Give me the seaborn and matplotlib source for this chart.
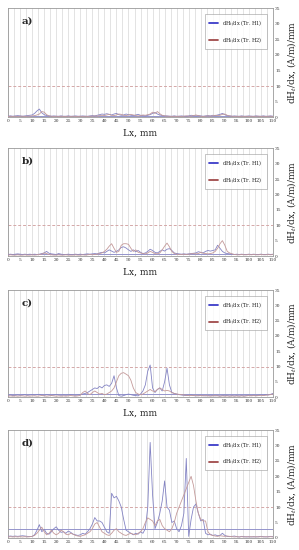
import matplotlib
matplotlib.use("Agg")
import matplotlib.pyplot as plt
from matplotlib.lines import Line2D
import numpy as np
import pandas as pd
import seaborn as sns

# positions along the sample, mm (1 mm step)
lx = list(range(0, 111))

# panel a)
a_h1 = [0.3, 0.4, 0.3, 0.4, 0.5, 0.4, 0.3, 0.4, 0.5, 0.6, 0.7,
        1.2, 2.0, 2.6, 1.4, 0.8, 0.5, 0.4, 0.3, 0.4, 0.3,
        0.3, 0.4, 0.3, 0.3, 0.4, 0.3, 0.3, 0.4, 0.3, 0.3,
        0.4, 0.3, 0.3, 0.4, 0.5, 0.4, 0.6, 0.8, 1.0, 0.9,
        1.1, 0.9, 0.7, 1.0, 1.2, 0.8, 0.6, 0.7, 1.0, 0.8,
        0.6, 0.5, 0.7, 0.9, 0.6, 0.5, 0.4, 0.6, 0.8, 1.2,
        1.5, 1.0, 0.7, 0.5, 0.4, 0.4, 0.3, 0.3, 0.4, 0.3,
        0.3, 0.4, 0.3, 0.3, 0.4, 0.6, 0.5, 0.4, 0.5, 0.4,
        0.3, 0.4, 0.5, 0.4, 0.6, 0.5, 0.7, 0.9, 1.2, 0.8,
        0.5, 0.4, 0.3, 0.4, 0.3, 0.3, 0.4, 0.3, 0.3, 0.4,
        0.3, 0.3, 0.4, 0.3, 0.3, 0.4, 0.3, 0.3, 0.4, 0.3]
a_h2 = [0.2, 0.3, 0.2, 0.3, 0.2, 0.3, 0.3, 0.2, 0.3, 0.3, 0.4,
        0.5, 0.7, 1.0, 1.8, 1.6, 0.8, 0.4, 0.3, 0.2, 0.3,
        0.2, 0.3, 0.2, 0.2, 0.3, 0.2, 0.3, 0.2, 0.2, 0.3,
        0.2, 0.3, 0.2, 0.3, 0.3, 0.4, 0.3, 0.5, 0.6, 0.5,
        0.7, 0.9, 0.6, 0.5, 0.7, 1.0, 0.9, 0.6, 0.5, 0.7,
        0.9, 0.7, 0.5, 0.4, 0.5, 0.7, 0.6, 0.8, 1.0, 1.6,
        1.2, 1.8, 1.1, 0.6, 0.4, 0.3, 0.3, 0.2, 0.3, 0.2,
        0.3, 0.2, 0.3, 0.4, 0.3, 0.3, 0.5, 0.7, 0.5, 0.3,
        0.2, 0.3, 0.4, 0.3, 0.4, 0.6, 0.5, 0.6, 0.9, 1.0,
        0.6, 0.4, 0.3, 0.2, 0.3, 0.2, 0.3, 0.2, 0.3, 0.2,
        0.3, 0.2, 0.3, 0.3, 0.2, 0.3, 0.2, 0.3, 0.3, 0.2]

# panel b)
b_h1 = [0.5, 0.6, 0.5, 0.6, 0.7, 0.6, 0.5, 0.6, 0.5, 0.6, 0.5,
        0.6, 0.5, 0.6, 0.8, 1.0, 1.5, 0.9, 0.7, 0.6, 0.5,
        0.8, 0.6, 0.5, 0.5, 0.6, 0.5, 0.5, 0.6, 0.5, 0.6,
        0.5, 0.6, 0.7, 0.6, 0.7, 0.8, 0.7, 1.0, 1.2, 1.0,
        1.5, 2.0, 1.6, 1.2, 1.5, 2.0, 2.8, 3.0, 2.6, 2.0,
        1.5, 2.0, 1.4, 1.8, 1.2, 0.8, 1.0, 1.5, 2.2, 1.8,
        1.2, 1.0, 1.5, 2.0, 1.6, 2.2, 2.4, 1.8, 1.0, 0.8,
        0.7, 0.6, 0.7, 0.6, 0.7, 0.8, 0.9, 1.0, 1.4, 1.2,
        1.0, 1.5, 1.8, 1.6, 1.8, 2.0, 3.5, 2.5, 1.5, 1.0,
        0.8, 0.7, 0.6, 0.5, 0.6, 0.5, 0.6, 0.5, 0.5, 0.6,
        0.5, 0.6, 0.5, 0.5, 0.6, 0.5, 0.5, 0.6, 0.5, 0.6]
b_h2 = [0.3, 0.4, 0.3, 0.3, 0.4, 0.3, 0.3, 0.4, 0.3, 0.3, 0.4,
        0.3, 0.4, 0.5, 0.6, 1.0, 0.8, 0.5, 0.4, 0.3, 0.3,
        0.4, 0.3, 0.3, 0.4, 0.3, 0.3, 0.3, 0.4, 0.3, 0.3,
        0.4, 0.3, 0.4, 0.5, 0.4, 0.5, 0.6, 0.8, 1.0, 1.5,
        2.2, 3.2, 4.0, 2.5, 1.2, 1.5, 3.5, 4.0, 4.0, 3.8,
        2.5, 1.5, 2.0, 1.2, 1.0, 0.8, 0.7, 1.0, 1.5, 1.2,
        0.8, 0.7, 1.0, 2.0, 3.2, 4.2, 3.0, 1.5, 0.8, 0.6,
        0.5, 0.5, 0.6, 0.5, 0.6, 0.7, 0.8, 0.7, 0.8, 1.2,
        0.9, 0.8, 0.7, 0.8, 1.0, 1.5, 2.5, 4.0, 5.0, 3.5,
        1.5, 1.0, 0.7, 0.5, 0.4, 0.4, 0.5, 0.4, 0.4, 0.5,
        0.4, 0.5, 0.4, 0.4, 0.5, 0.4, 0.4, 0.5, 0.4, 0.5]

# panel c)
c_h1 = [0.6, 0.7, 0.5, 0.6, 0.7, 0.6, 0.7, 0.8, 0.6, 0.7, 0.8,
        0.7, 0.8, 0.9, 0.7, 0.6, 0.8, 0.7, 0.6, 0.7, 0.8,
        0.7, 0.6, 0.7, 0.6, 0.7, 0.8, 0.7, 0.6, 0.7, 0.8,
        1.0, 1.2, 1.5, 2.0, 2.5, 3.0, 2.8, 3.5, 3.0, 3.8,
        4.0, 3.5, 4.5, 7.0, 3.0, 0.5, 0.3, 0.5, 0.8, 1.0,
        0.8, 0.6, 0.5, 0.4, 1.0, 2.0, 4.0, 8.5, 10.5, 3.0,
        1.5, 2.5, 3.0, 2.0, 5.0, 9.5, 4.0, 1.5, 1.2, 1.0,
        0.8, 0.7, 0.6, 0.5, 0.6, 0.7, 0.5, 0.4, 0.5, 0.6,
        0.5, 0.4, 0.5, 0.6, 0.5, 0.4, 0.5, 0.4, 0.5, 0.6,
        0.5, 0.4, 0.5, 0.4, 0.5, 0.4, 0.5, 0.4, 0.5, 0.6,
        0.5, 0.6, 0.5, 0.6, 0.7, 0.6, 0.8, 0.7, 0.9, 1.2]
c_h2 = [0.3, 0.4, 0.3, 0.4, 0.3, 0.4, 0.4, 0.3, 0.4, 0.3, 0.4,
        0.4, 0.3, 0.4, 0.5, 0.4, 0.3, 0.4, 0.5, 0.4, 0.3,
        0.4, 0.3, 0.4, 0.3, 0.4, 0.5, 0.4, 0.3, 0.4, 0.6,
        1.5, 2.0, 1.2, 0.8, 1.5, 2.0, 1.5, 1.0, 1.2, 0.8,
        1.0, 1.5, 2.0, 3.0, 5.0, 7.0, 7.8, 8.0, 7.5, 7.0,
        5.5, 3.0, 1.5, 1.0, 0.8, 1.0, 1.5, 2.0, 2.5, 2.0,
        1.8, 2.5, 3.0, 2.5, 2.0, 2.2, 2.0, 1.5, 1.2, 1.0,
        0.9, 0.8, 0.7, 0.6, 0.5, 0.5, 0.6, 0.5, 0.4, 0.5,
        0.4, 0.5, 0.4, 0.3, 0.4, 0.5, 0.4, 0.3, 0.4, 0.3,
        0.4, 0.3, 0.4, 0.3, 0.4, 0.3, 0.4, 0.3, 0.4, 0.5,
        0.4, 0.5, 0.4, 0.5, 0.6, 0.5, 0.6, 0.7, 0.8, 1.0]

# panel d)
d_h1 = [0.5, 0.6, 0.5, 0.6, 0.5, 0.6, 0.7, 0.6, 0.5, 0.4, 0.5,
        1.0, 2.5, 4.3, 2.0, 2.8, 1.5, 1.2, 2.0, 3.0, 3.6,
        2.5, 1.8, 2.0, 1.5, 2.2, 1.8, 1.2, 1.0, 0.8, 1.0,
        1.5, 1.2, 2.0, 3.0, 4.5, 6.6, 5.5, 5.5, 5.0, 3.5,
        2.0, 1.5, 14.5, 13.0, 13.5, 12.0, 10.0, 6.0, 2.5, 2.0,
        1.5, 1.0, 1.5, 1.2, 2.0, 1.5, 3.0, 10.0, 31.0, 14.0,
        3.0, 5.0, 8.0, 12.0, 18.5, 10.0, 9.0, 5.0, 5.5, 3.0,
        2.0, 4.0, 8.0, 25.8, 0.5, 6.0, 10.0, 11.0, 8.0, 5.5,
        6.0, 1.5, 1.0, 1.2, 0.8, 1.0, 0.7, 0.8, 1.5, 0.8,
        0.5, 0.4, 0.5, 0.6, 0.4, 0.3, 0.5, 0.4, 0.3, 0.4,
        0.3, 0.4, 0.3, 0.4, 0.5, 0.4, 0.3, 0.4, 0.5, 0.4]
d_h2 = [0.3, 0.4, 0.3, 0.4, 0.3, 0.4, 0.3, 0.4, 0.3, 0.4, 0.5,
        0.8, 1.5, 2.5, 3.5, 2.0, 1.0, 1.5, 2.5, 1.5, 1.0,
        1.5, 2.5, 2.0, 1.2, 1.0, 1.5, 1.2, 0.8, 0.6, 0.5,
        0.8, 1.0, 1.5, 2.0, 3.0, 4.5, 5.0, 3.5, 2.0, 1.5,
        1.0, 0.8, 1.5, 2.5, 3.0, 2.0, 1.5, 1.0, 0.8, 1.2,
        1.5, 1.2, 1.0, 1.5, 2.0, 3.0, 5.0, 6.5, 6.0, 5.5,
        4.0, 5.5, 6.0, 4.0, 3.0, 2.5, 2.0, 3.0, 5.0, 8.0,
        10.0, 12.0, 14.0, 16.0, 18.0, 20.0, 17.0, 12.0, 8.0, 6.0,
        5.5, 5.5, 2.0, 1.0, 0.8, 0.6, 0.5, 0.7, 0.6, 0.5,
        0.6, 0.5, 0.4, 0.3, 0.4, 0.3, 0.4, 0.3, 0.4, 0.3,
        0.4, 0.3, 0.4, 0.3, 0.4, 0.3, 0.4, 0.3, 0.4, 0.3]

panel_labels = ["a)", "b)", "c)", "d)"]
h1_series = [a_h1, b_h1, c_h1, d_h1]
h2_series = [a_h2, b_h2, c_h2, d_h2]
h1_level = [0.5, 0.8, 1.0, 3.0]   # solid reference line per panel
h2_level = 10.0                    # dashed reference line

series_names = [r"dH$_t$/dx (Tr. H1)", r"dH$_t$/dx (Tr. H2)"]
line_colors = ["#8484c4", "#c49a9a"]
legend_colors = ["#3c3cc8", "#a04a4a"]

sns.set_style("white")
plt.rcParams["font.family"] = ["DejaVu Serif"]
plt.rcParams["mathtext.fontset"] = "dejavuserif"

fig = plt.figure(figsize=(2.99, 5.5), dpi=100)
# [bottom, height] of each panel in figure fraction
boxes = [(0.787, 0.198), (0.5345, 0.196), (0.278, 0.1945), (0.022, 0.196)]

for i, (bot, h) in enumerate(boxes):
    ax = fig.add_axes([0.027, bot, 0.886, h])
    df = pd.DataFrame({
        "Lx": lx * 2,
        "val": h1_series[i] + h2_series[i],
        "series": [series_names[0]] * len(lx) + [series_names[1]] * len(lx),
    })
    sns.lineplot(data=df, x="Lx", y="val", hue="series", palette=line_colors,
                 linewidth=0.6, legend=False, ax=ax, zorder=3)
    ax.axhline(h1_level[i], color="#9494cc", lw=0.7, zorder=2)
    ax.axhline(h2_level, color="#d4a8a8", lw=0.7, ls=(0, (3, 2)), zorder=2)

    ax.set_xlim(0, 110)
    ax.set_ylim(0, 35)
    ax.set_xticks(np.arange(0, 111, 5))
    ax.set_xticks(np.arange(0, 111, 2.5), minor=True)
    ax.set_yticks(np.arange(0, 36, 5))
    ax.grid(True, which="both", axis="x", color="#d8d8d8", lw=0.5)
    ax.yaxis.tick_right()
    ax.yaxis.set_label_position("right")
    ax.tick_params(axis="both", labelsize=3.2, length=0, pad=1.5, colors="#333333")
    for s in ax.spines.values():
        s.set_color("#999999")
        s.set_linewidth(0.6)

    # the bottom panel's x label falls below the picture edge in the original
    ax.set_xlabel("Lx, mm" if i < 3 else "", fontsize=6.5, labelpad=3)
    ax.set_ylabel(r"dH$_t$/dx, (A/m)/mm", fontsize=6.5, labelpad=3)
    ax.text(0.05, 0.88, panel_labels[i], transform=ax.transAxes,
            fontsize=7.5, fontweight="bold", va="center")

    handles = [Line2D([], [], color=c, lw=1.3) for c in legend_colors]
    leg = ax.legend(handles, series_names, loc="upper right", fontsize=3.6,
                    frameon=True, fancybox=False, handlelength=1.8,
                    borderpad=0.8, labelspacing=1.4, bbox_to_anchor=(0.985, 0.97))
    leg.get_frame().set_edgecolor("#999999")
    leg.get_frame().set_linewidth(0.5)

fig.savefig("out.png", dpi=100)
